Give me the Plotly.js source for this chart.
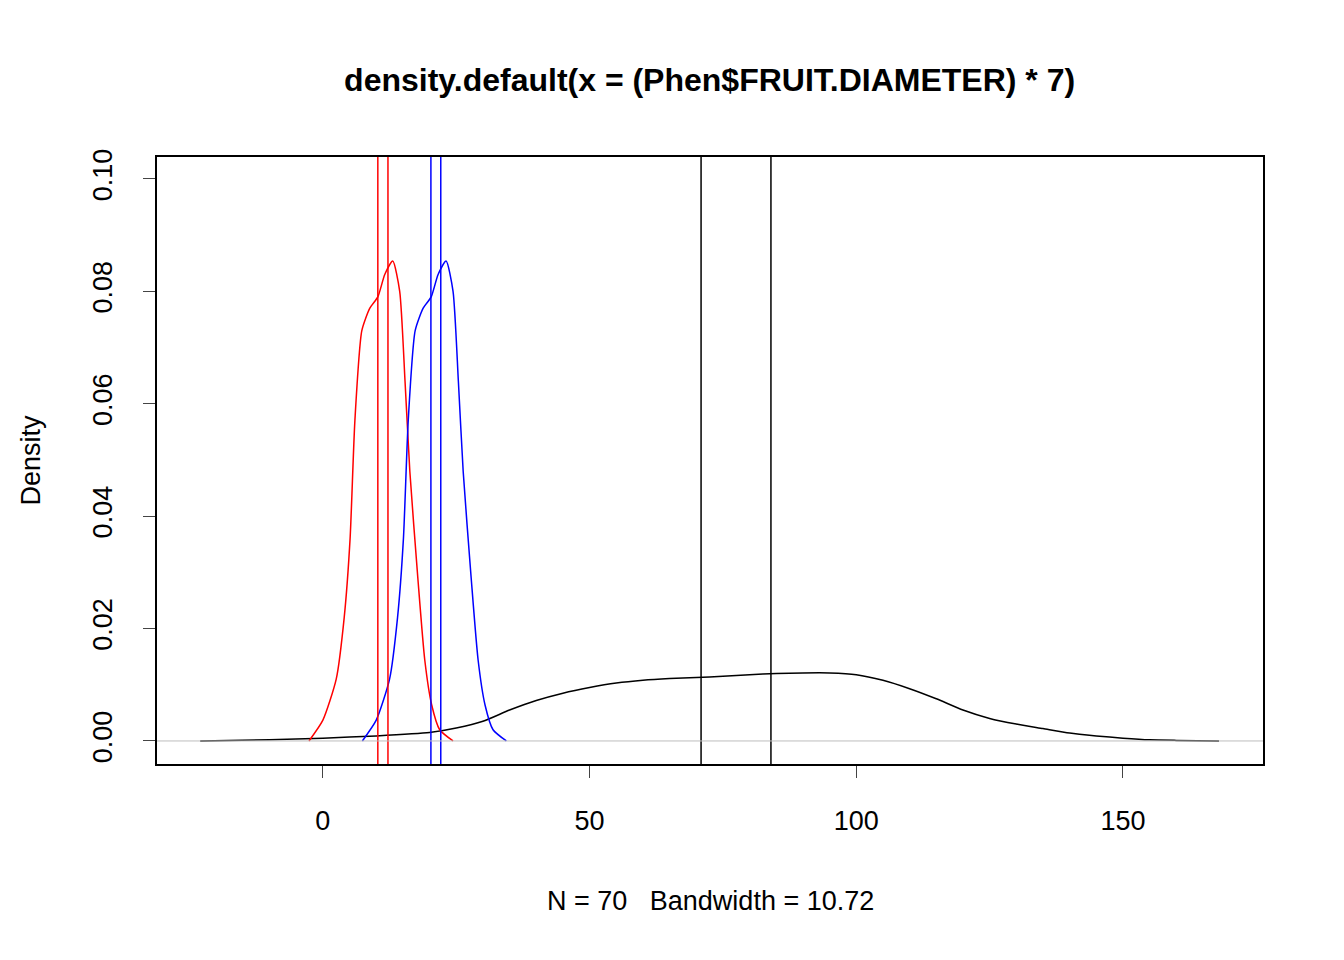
<!DOCTYPE html><html><head><script src="https://cdn.plot.ly/plotly-3.0.1.min.js"></script></head><body style="margin:0"><div id="c" style="width:1344px;height:960px"></div><script>
const blackX=[-23,-10,0,10,20,25,30,35,40,45,50,55,60,65,70,75,80,85,90,95,100,105,110,115,120,125,130,135,140,145,150,155,160,168];
const blackY=[0,0.0002,0.0005,0.0009,0.0015,0.0023,0.0035,0.0055,0.0072,0.0085,0.0095,0.0103,0.0108,0.0111,0.0113,0.0115,0.0118,0.012,0.0121,0.0121,0.0118,0.0108,0.0093,0.0075,0.0055,0.004,0.003,0.0022,0.0014,0.0009,0.0005,0.0002,0.0001,0];
const redX=[-2.6,0,2.5,4,5.1,6,7.3,8.8,10.3,11.6,13.1,14.4,15.4,16.3,17.8,19.1,20.4,21.9,24.4];
const redY=[0,0.0037,0.011,0.022,0.036,0.057,0.073,0.077,0.079,0.083,0.0854,0.080,0.064,0.048,0.029,0.0144,0.0064,0.002,0];
const blueX=redX.map(v=>v+10);
const blueY=redY;
const vBlack=[70.9,84.0], vRed=[10.3,12.2], vBlue=[20.25,22.1];
const shapes=[];
[[vBlack,'black'],[vRed,'red'],[vBlue,'blue']].forEach(([a,c])=>a.forEach(v=>shapes.push({type:'line',xref:'x',yref:'paper',x0:v,x1:v,y0:0,y1:1,line:{color:c,width:1.5}})));
shapes.push({type:'line',xref:'paper',yref:'y',x0:0,x1:1,y0:0,y1:0,line:{color:'#bebebe',width:1}});
const ln=(x,y,c)=>({x,y,type:'scatter',mode:'lines',line:{color:c,width:1.5,shape:'spline',smoothing:0.6},hoverinfo:'none'});
Plotly.newPlot('c',[ln(blackX,blackY,'black'),ln(redX,redY,'red'),ln(blueX,blueY,'blue')],{
width:1344,height:960,showlegend:false,paper_bgcolor:'white',plot_bgcolor:'white',
font:{family:'Liberation Sans, Arial',size:27,color:'black'},
margin:{l:157,r:81,t:157,b:196},
title:{text:'<b>density.default(x = (Phen$FRUIT.DIAMETER) * 7)</b>',x:0.528,xanchor:'center',y:0.917,yanchor:'middle',font:{size:32}},
xaxis:{range:[-31.1,176.25],tickvals:[0,50,100,150],ticks:'outside',ticklen:12,ticklabelstandoff:20,showgrid:false,zeroline:false,showline:true,mirror:true,linecolor:'black',linewidth:1.5,tickfont:{size:27}},
yaxis:{range:[-0.0041,0.1039],tickvals:[0,0.02,0.04,0.06,0.08,0.1],ticktext:['0.00','0.02','0.04','0.06','0.08','0.10'],tickangle:-90,ticks:'outside',ticklen:12,ticklabelstandoff:20,showgrid:false,zeroline:false,showline:true,mirror:true,linecolor:'black',linewidth:1.5,tickfont:{size:27},title:{text:'Density',standoff:40,font:{size:27}}},
shapes,
annotations:[{text:'N = 70   Bandwidth = 10.72',xref:'paper',yref:'paper',x:0.5,y:-0.225,showarrow:false,font:{size:27},xanchor:'center',yanchor:'middle'}]
},{displayModeBar:false});
</script></body></html>
